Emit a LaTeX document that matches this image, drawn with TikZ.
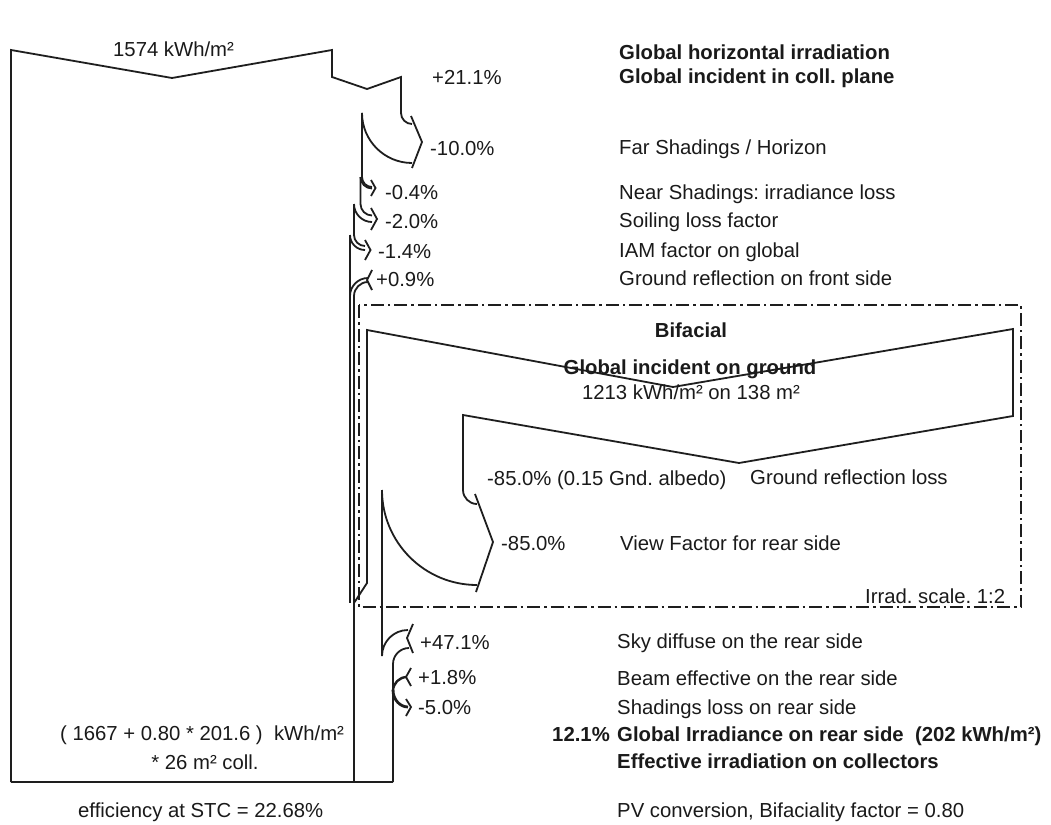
\documentclass[tikz,border=0pt]{standalone}
\usepackage{fontspec}
\setmainfont{Liberation Sans}
\definecolor{linec}{HTML}{1E1E1E}
\definecolor{txtc}{HTML}{1A1A1A}
\frenchspacing
\begin{document}
\begin{tikzpicture}[x=1pt,y=-1pt,
  flow/.style={line width=1.8pt, draw=linec, line join=miter, line cap=butt},
  chev/.style={line width=1.8pt, draw=linec, line join=miter},
  boxline/.style={line width=1.8pt, draw=linec, dash pattern=on 13pt off 4pt on 2.5pt off 4pt},
  lbl/.style={anchor=base west, inner sep=0pt, text=txtc, font=\fontsize{20.3}{24}\selectfont},
  blbl/.style={lbl, font=\fontsize{20.3}{24}\selectfont\bfseries},
  clbl/.style={lbl, anchor=base},
  cblbl/.style={blbl, anchor=base}]
\useasboundingbox (0,0) rectangle (1051,824);
\fill[white] (0,0) rectangle (1051,824);

% ---------- front side flow ----------
\draw[flow] (11,782) -- (11,50) -- (172,78) -- (332,50) -- (332,77) -- (367,89) -- (401,77) -- (401,113)
  .. controls (401,119.1) and (405.9,124) .. (412,124);
% far shadings -10%
\draw[flow] (362,113) .. controls (362,140.6) and (384.4,163) .. (412,163);
\draw[chev] (411,116) -- (422,142) -- (412,168);
% near shadings -0.4%
\draw[flow] (362,113) -- (362,177) .. controls (362,182.5) and (366.5,187) .. (372,187);
\draw[flow] (360.5,177) .. controls (360.5,183.3) and (365.7,188.5) .. (372,188.5);
\draw[chev] (371,180) -- (375.5,188) -- (371,196);
% soiling -2.0%
\draw[flow] (360.5,177) -- (360.5,204) .. controls (360.5,210.3) and (365.7,215.5) .. (372,215.5);
\draw[flow] (354,204) .. controls (354,213.9) and (362.1,222) .. (372,222);
\draw[chev] (371,208) -- (377,219) -- (371,230);
% IAM -1.4%
\draw[flow] (354,204) -- (354,235) .. controls (354,241.1) and (358.9,246) .. (365,246);
\draw[flow] (350,235) .. controls (350,243.3) and (356.7,250) .. (365,250);
\draw[chev] (365,240) -- (370.5,250) -- (365,260);
\draw[flow] (350,235) -- (350,603);
% ground reflection +0.9%
\draw[flow] (350,296) .. controls (350,286.1) and (358.1,278) .. (368,278);
\draw[flow] (354,296) .. controls (354,288.3) and (360.3,282) .. (368,282);
\draw[chev] (372,270) -- (367,280) -- (372,290);
\draw[flow] (354,296) -- (354,782);

% ---------- bifacial box ----------
\draw[boxline] (359,305) rectangle (1021,607);
\draw[flow] (354,603) -- (367,583) -- (367,330) -- (673,387) -- (1013,329) -- (1013,416) -- (739,463) -- (463,415) -- (463,490)
  .. controls (463,497.7) and (469.3,504) .. (477,504);
% view factor -85%
\draw[flow] (382,490) .. controls (382,542.5) and (424.5,585) .. (477,585);
\draw[chev] (475,494) -- (493,542) -- (476,592);

% ---------- rear side ----------
% sky diffuse +47.1%
\draw[flow] (382,490) -- (382,656) .. controls (382,641.6) and (393.6,630) .. (408,630);
\draw[flow] (393,782) -- (393,664) .. controls (393,655.2) and (400.2,648) .. (409,648);
\draw[chev] (413,624) -- (407,638) -- (413,653);
% beam +1.8%
\draw[flow, line width=2.4pt] (393,691) .. controls (393,683.3) and (399.3,677) .. (407,677);
\draw[chev] (411,668) -- (406,677) -- (411,686);
% shadings -5.0%
\draw[flow, line width=2.8pt] (393,690) .. controls (393,699.8) and (400.2,707) .. (408,707);
\draw[chev] (406,699) -- (411,707) -- (406,716);
% bottom
\draw[flow] (11,782) -- (393,782);

% ---------- labels ----------
\node[lbl] (ghival) at (113,57) {1574 kWh/m²};
\node[lbl] (p211) at (432,85) {+21.1\%};
\node[lbl] (p100) at (430,155) {-10.0\%};
\node[lbl] (p04) at (385,199) {-0.4\%};
\node[lbl] (p20) at (385,228) {-2.0\%};
\node[lbl] (p14) at (378,258) {-1.4\%};
\node[lbl] (p09) at (376,286) {+0.9\%};

\node[blbl] (tghi) at (619,60) {Global horizontal irradiation};
\node[blbl] (tgic) at (619,84) {Global incident in coll. plane};
\node[lbl] (tfar) at (619,154) {Far Shadings / Horizon};
\node[lbl] (tnear) at (619,199) {Near Shadings: irradiance loss};
\node[lbl] (tsoil) at (619,227) {Soiling loss factor};
\node[lbl] (tiam) at (619,257) {IAM factor on global};
\node[lbl] (tgrf) at (619,285) {Ground reflection on front side};

\node[cblbl] (tbif) at (691,337) {Bifacial};
\node[cblbl] (tgig) at (690,374) {Global incident on ground};
\node[clbl] (tgigv) at (691,399) {1213 kWh/m² on 138 m²};
\node[lbl] (p850a) at (487,485) {-85.0\% (0.15 Gnd. albedo)};
\node[lbl] (tgrl) at (750,484) {Ground reflection loss};
\node[lbl] (p850b) at (501,550) {-85.0\%};
\node[lbl] (tvf) at (620,550) {View Factor for rear side};
\node[lbl] (tscale) at (865,603) {Irrad. scale. 1:2};

\node[lbl] (p471) at (420,649) {+47.1\%};
\node[lbl] (p18) at (418,684) {+1.8\%};
\node[lbl] (p50) at (418,714) {-5.0\%};
\node[lbl] (tsky) at (617,648) {Sky diffuse on the rear side};
\node[lbl] (tbeam) at (617,685) {Beam effective on the rear side};
\node[lbl] (tshr) at (617,714) {Shadings loss on rear side};
\node[blbl, anchor=base east] (p121) at (610,741) {12.1\%};
\node[blbl] (tgir) at (617,741) {Global Irradiance on rear side\ \ (202 kWh/m²)};
\node[blbl] (teff) at (617,768) {Effective irradiation on collectors};
\node[lbl] (tpv) at (617,817) {PV conversion, Bifaciality factor = 0.80};

\node[lbl] (tcalc) at (60,740) {( 1667 + 0.80 * 201.6 )\ \ kWh/m²};
\node[clbl] (tcoll) at (205,769) {* 26 m² coll.};
\node[lbl] (tstc) at (78,817) {efficiency at STC = 22.68\%};
\end{tikzpicture}
\end{document}
